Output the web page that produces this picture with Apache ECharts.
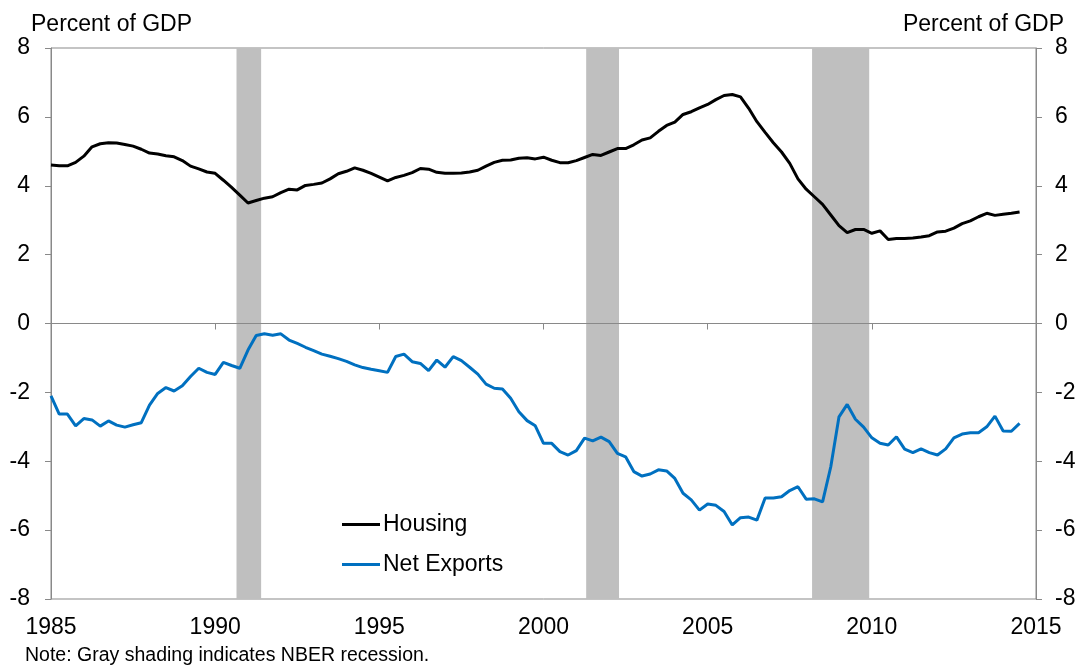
<!DOCTYPE html>
<html style="height: 100%">
<head>
<meta charset="utf-8">
</head>
<body style="height: 100%; margin: 0; background: #fff">
<div id="container" style="width: 1082px; height: 666px"></div>
<script type="text/javascript" src="https://cdn.jsdelivr.net/npm/echarts@6/dist/echarts.min.js"></script>
<script type="text/javascript">
// quarterly, 1985Q1 .. 2014Q3, percent of GDP
var startYear = 1985;
var housing = [
    4.60, 4.58, 4.58, 4.68, 4.86, 5.13, 5.22, 5.25, 5.24, 5.20,
    5.15, 5.06, 4.95, 4.92, 4.87, 4.84, 4.73, 4.57, 4.49, 4.40,
    4.36, 4.16, 3.95, 3.73, 3.50, 3.57, 3.64, 3.68, 3.80, 3.90,
    3.88, 4.01, 4.04, 4.08, 4.20, 4.35, 4.42, 4.52, 4.45, 4.36,
    4.25, 4.14, 4.24, 4.30, 4.38, 4.50, 4.48, 4.39, 4.36, 4.36,
    4.37, 4.40, 4.45, 4.57, 4.68, 4.74, 4.75, 4.80, 4.81, 4.78,
    4.83, 4.74, 4.67, 4.67, 4.73, 4.82, 4.91, 4.88, 4.98, 5.08,
    5.08, 5.19, 5.33, 5.39, 5.58, 5.75, 5.85, 6.07, 6.15, 6.26,
    6.36, 6.50, 6.62, 6.65, 6.58, 6.25, 5.86, 5.55, 5.25, 4.98,
    4.65, 4.20, 3.90, 3.68, 3.46, 3.15, 2.84, 2.64, 2.73, 2.73,
    2.62, 2.69, 2.44, 2.47, 2.47, 2.48, 2.51, 2.55, 2.66, 2.68,
    2.77, 2.90, 2.98, 3.10, 3.20, 3.14, 3.17, 3.20, 3.24
];
var netExports = [
    -2.10, -2.63, -2.63, -2.97, -2.76, -2.80, -2.98, -2.83, -2.95, -3.01,
    -2.94, -2.88, -2.37, -2.03, -1.86, -1.96, -1.81, -1.54, -1.30, -1.42,
    -1.48, -1.13, -1.22, -1.30, -0.77, -0.35, -0.30, -0.34, -0.30, -0.48,
    -0.58, -0.69, -0.79, -0.89, -0.95, -1.02, -1.10, -1.20, -1.28, -1.33,
    -1.37, -1.42, -0.96, -0.89, -1.11, -1.16, -1.37, -1.06, -1.27, -0.96,
    -1.08, -1.27, -1.47, -1.76, -1.88, -1.90, -2.17, -2.56, -2.82, -2.97,
    -3.48, -3.48, -3.72, -3.82, -3.69, -3.33, -3.41, -3.30, -3.43, -3.77,
    -3.87, -4.30, -4.43, -4.37, -4.25, -4.28, -4.50, -4.93, -5.12, -5.42,
    -5.24, -5.28, -5.46, -5.85, -5.64, -5.62, -5.71, -5.07, -5.07, -5.03,
    -4.85, -4.74, -5.10, -5.09, -5.18, -4.16, -2.71, -2.35, -2.78, -3.01,
    -3.32, -3.48, -3.53, -3.29, -3.65, -3.75, -3.64, -3.75, -3.82, -3.64,
    -3.32, -3.21, -3.17, -3.17, -3.00, -2.69, -3.12, -3.13, -2.90
];
// shaded recession spans, in fractional years as drawn
var recessions = [
    [1990.65, 1991.40],
    [2001.30, 2002.30],
    [2008.18, 2009.92]
];

var font = "'Liberation Sans', Arial, sans-serif";
var axisGray = '#898989';

function toPairs(arr) {
    return arr.map(function (v, i) { return [startYear + i / 4, v]; });
}

var dom = document.getElementById('container');
var myChart = echarts.init(dom, null, { renderer: 'canvas' });

var option = {
    animation: false,
    backgroundColor: '#fff',
    textStyle: { fontFamily: font },
    title: [
        { text: 'Percent of GDP', left: 26, top: 8,
          textStyle: { fontSize: 23, fontWeight: 'normal', color: '#000', fontFamily: font } },
        { text: 'Percent of GDP', right: 13, top: 8,
          textStyle: { fontSize: 23, fontWeight: 'normal', color: '#000', fontFamily: font } },
        { text: 'Note: Gray shading indicates NBER recession.', left: 20, top: 641,
          textStyle: { fontSize: 19.5, fontWeight: 'normal', color: '#000', fontFamily: font } }
    ],
    legend: {
        orient: 'vertical',
        left: 337,
        top: 508,
        icon: 'rect',
        itemWidth: 38,
        itemHeight: 3,
        itemGap: 17,
        textStyle: { fontSize: 23, color: '#000', fontFamily: font, padding: [0, 0, 0, -2] },
        data: ['Housing', 'Net Exports']
    },
    grid: {
        left: 51, right: 46, top: 48, bottom: 67,
        show: true, borderColor: axisGray, borderWidth: 1
    },
    xAxis: {
        type: 'value',
        min: 1985, max: 2015, interval: 5,
        axisLine: { show: true, lineStyle: { color: axisGray } },
        axisTick: { show: true, length: 6, lineStyle: { color: axisGray } },
        splitLine: { show: false },
        axisLabel: { fontSize: 23, color: '#000', margin: 17, fontFamily: font,
                     formatter: function (v) { return String(v); } }
    },
    yAxis: [
        {
            type: 'value', position: 'left',
            min: -8, max: 8, interval: 2,
            axisLine: { show: true, lineStyle: { color: axisGray } },
            axisTick: { show: true, length: 6, lineStyle: { color: axisGray } },
            splitLine: { show: false },
            axisLabel: { fontSize: 23, color: '#000', margin: 21, fontFamily: font }
        },
        {
            type: 'value', position: 'right',
            min: -8, max: 8, interval: 2,
            axisLine: { show: true, lineStyle: { color: axisGray } },
            axisTick: { show: true, length: 6, lineStyle: { color: axisGray } },
            splitLine: { show: false },
            axisLabel: { fontSize: 23, color: '#000', margin: 19, fontFamily: font }
        }
    ],
    series: [
        {
            name: 'recessions',
            type: 'line',
            data: [],
            silent: true,
            z: 1,
            markArea: {
                silent: true,
                itemStyle: { color: '#BFBFBF' },
                data: recessions.map(function (r) {
                    return [{ xAxis: r[0] }, { xAxis: r[1] }];
                })
            },
            markLine: {
                silent: true,
                symbol: 'none',
                label: { show: false },
                lineStyle: { color: axisGray, width: 1, type: 'solid' },
                data: [{ yAxis: 0 }]
            }
        },
        {
            name: 'Housing',
            type: 'line',
            data: toPairs(housing),
            showSymbol: false,
            color: '#000000',
            lineStyle: { width: 3, color: '#000000' },
            z: 3
        },
        {
            name: 'Net Exports',
            type: 'line',
            data: toPairs(netExports),
            showSymbol: false,
            color: '#0070C0',
            lineStyle: { width: 3, color: '#0070C0' },
            z: 3
        }
    ]
};

if (option && typeof option === 'object') {
    myChart.setOption(option);
}
</script>
</body>
</html>
